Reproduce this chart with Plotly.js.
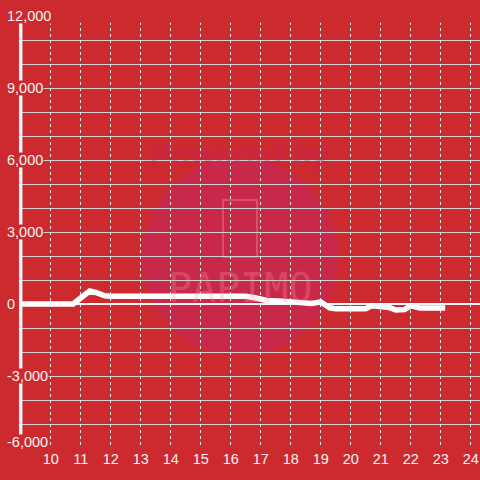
<!DOCTYPE html>
<html>
<head>
<meta charset="utf-8">
<script src="https://cdn.plot.ly/plotly-3.0.1.min.js"></script>
<style>html,body{margin:0;padding:0;background:#cd2a2f;}#chart{width:480px;height:480px;}</style>
</head>
<body>
<div id="chart"></div>
<script>
// hour of day
const hours = [8.88, 10.75, 11.0, 11.3, 11.5, 11.8, 12.0, 16.5, 16.8, 17.2, 17.6, 18.0, 18.3, 18.7, 19.0, 19.3, 19.5, 20.5, 20.7, 21.0, 21.3, 21.5, 21.8, 22.0, 22.2, 22.3, 23.15];
// coin difference
const values = [0, 0, 250, 540, 480, 340, 320, 320, 260, 150, 130, 90, 20, 20, 90, -160, -200, -200, -70, -120, -150, -250, -230, -70, -140, -170, -170];
const xTickVals = [10, 11, 12, 13, 14, 15, 16, 17, 18, 19, 20, 21, 22, 23, 24];
const yTickVals = [-6000, -3000, 0, 3000, 6000, 9000, 12000];
const yTickText = ['-6,000', '-3,000', '0', '3,000', '6,000', '9,000', '12,000'];

const BG = '#cd2a2f';
const xRange = [8.31, 24.31];
const yRange = [-6000, 12000];
const axisX = 9;

const shapes = [];
// watermark circle
shapes.push({type: 'circle', xref: 'paper', yref: 'paper', x0: 0.2958, x1: 0.7042, y0: 0.2153, y1: 0.669,
  fillcolor: '#c8284a', line: {width: 0}, layer: 'below'});
// phone icon outline
shapes.push({type: 'rect', xref: 'paper', yref: 'paper', x0: 0.4646, x1: 0.5354, y0: 0.442, y1: 0.574,
  fillcolor: 'rgba(0,0,0,0)', line: {color: 'rgba(255,150,165,0.35)', width: 2}, layer: 'below'});
// mask left of the axis bar
shapes.push({type: 'rect', xref: 'paper', yref: 'y', x0: 0, x1: 0.0398, y0: yRange[0], y1: yRange[1],
  fillcolor: BG, line: {width: 0}, layer: 'above'});
// mask top of the vertical grid
shapes.push({type: 'rect', xref: 'paper', yref: 'y', x0: 0.045, x1: 1, y0: 11720, y1: 11985,
  fillcolor: BG, line: {width: 0}, layer: 'above'});
// thick y-axis bar
shapes.push({type: 'line', xref: 'x', yref: 'y', x0: axisX, x1: axisX, y0: yRange[0], y1: yRange[1],
  line: {color: '#f4f4f4', width: 3.5}, layer: 'above'});

const annotations = [
  {xref: 'paper', yref: 'paper', x: 0.502, y: 0.727, text: 'Powered by', showarrow: false,
   font: {family: 'Liberation Sans, Arial, sans-serif', size: 32, color: 'rgba(200,30,110,0.3)', weight: 'bold', style: 'italic'}},
  {xref: 'paper', yref: 'paper', x: 0.5, y: 0.37, text: 'PAPIMO', showarrow: false,
   font: {family: 'DejaVu Sans Mono, monospace', size: 40, color: 'rgba(255,150,165,0.3)'}}
];
// y tick labels drawn with a red background that masks the grid
yTickVals.forEach((v, i) => {
  annotations.push({
    xref: 'paper', yref: 'y', x: 6 / 480, y: v, xanchor: 'left', yanchor: 'middle',
    yshift: v === yRange[0] ? 6 : 0,
    text: yTickText[i], showarrow: false, bgcolor: BG, borderpad: 0, height: 14,
    font: {family: 'Liberation Sans, Arial, sans-serif', size: 14.5, color: '#f3f3f3'}
  });
});

const data = [{
  type: 'scatter', mode: 'lines', x: hours, y: values,
  line: {color: '#ffffff', width: 5.5, shape: 'linear'},
  hoverinfo: 'skip'
}];

const layout = {
  width: 480, height: 480,
  margin: {l: 0, r: 0, t: 16, b: 32},
  paper_bgcolor: BG, plot_bgcolor: BG,
  showlegend: false,
  font: {family: 'Liberation Sans, Arial, sans-serif', size: 14.5, color: '#f3f3f3'},
  xaxis: {
    range: xRange, tickmode: 'array', tickvals: xTickVals, ticktext: xTickVals.map(String),
    showgrid: true, gridcolor: '#e6e6e6', gridwidth: 1, griddash: 'dot',
    zeroline: false, showline: false, ticks: '', fixedrange: true,
    tickfont: {size: 14.5, color: '#f3f3f3'}
  },
  yaxis: {
    range: yRange, tickmode: 'array', tickvals: yTickVals, ticktext: yTickText,
    showticklabels: false, ticks: '',
    showgrid: true, gridcolor: '#d2d2d2', gridwidth: 1,
    minor: {dtick: 1000, tick0: 0, showgrid: true, gridcolor: '#d2d2d2', gridwidth: 1},
    zeroline: true, zerolinecolor: '#f4f4f4', zerolinewidth: 2.5,
    showline: false, fixedrange: true
  },
  shapes: shapes,
  annotations: annotations
};

Plotly.newPlot('chart', data, layout, {staticPlot: true, displayModeBar: false});
</script>
</body>
</html>
